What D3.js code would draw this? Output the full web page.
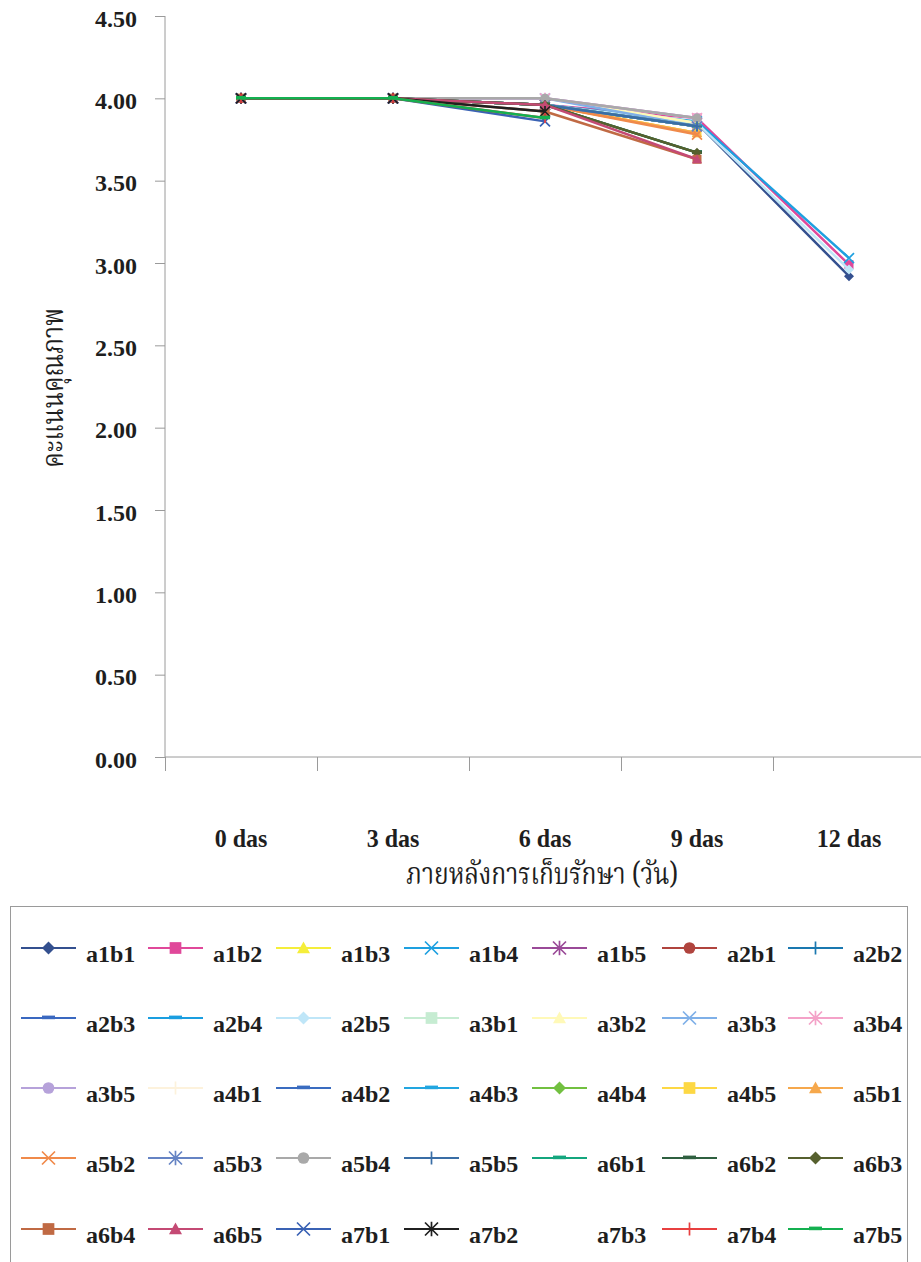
<!DOCTYPE html>
<html>
<head>
<meta charset="utf-8">
<script src="https://cdn.jsdelivr.net/npm/d3@7"></script>
<style>
  html, body { margin: 0; padding: 0; background: #fff; }
  svg { display: block; }
</style>
</head>
<body>
<svg id="chart" width="921" height="1262"></svg>
<script>
// Storage days on the x axis
const categories = ["0 das", "3 das", "6 das", "9 das", "12 das"];

// Y axis tick values
const yTicks = [0, 0.5, 1, 1.5, 2, 2.5, 3, 3.5, 4, 4.5];

// Treatment names (a = factor A level, b = factor B level)
const seriesNames = [
  "a1b1","a1b2","a1b3","a1b4","a1b5","a2b1","a2b2",
  "a2b3","a2b4","a2b5","a3b1","a3b2","a3b3","a3b4",
  "a3b5","a4b1","a4b2","a4b3","a4b4","a4b5","a5b1",
  "a5b2","a5b3","a5b4","a5b5","a6b1","a6b2","a6b3",
  "a6b4","a6b5","a7b1","a7b2","a7b3","a7b4","a7b5"
];

// Quality scores per treatment, one row per series (null = not scored)
const seriesValues = [
  [4.00, 4.00, 3.96, 3.85, 2.92], // a1b1
  [4.00, 4.00, 3.96, 3.88, 2.99], // a1b2
  [4.00, 4.00, 3.96, 3.79, null], // a1b3
  [4.00, 4.00, 3.96, 3.86, 3.03], // a1b4
  [4.00, 4.00, 3.96, 3.85, null], // a1b5
  [4.00, 4.00, 3.96, 3.83, null], // a2b1
  [4.00, 4.00, 3.96, 3.85, null], // a2b2
  [4.00, 4.00, 3.96, 3.83, null], // a2b3
  [4.00, 4.00, 3.96, 3.83, null], // a2b4
  [4.00, 4.00, 3.96, 3.85, 2.96], // a2b5
  [4.00, 4.00, 4.00, 3.85, null], // a3b1
  [4.00, 4.00, 4.00, 3.85, null], // a3b2
  [4.00, 4.00, 4.00, 3.83, null], // a3b3
  [4.00, 4.00, 4.00, 3.88, null], // a3b4
  [4.00, 4.00, 4.00, 3.88, null], // a3b5
  [4.00, 4.00, 3.96, 3.83, null], // a4b1
  [4.00, 4.00, 3.96, 3.83, null], // a4b2
  [4.00, 4.00, 3.96, 3.83, null], // a4b3
  [4.00, 4.00, 3.96, 3.83, null], // a4b4
  [4.00, 4.00, 3.96, 3.79, null], // a4b5
  [4.00, 4.00, 3.96, 3.79, null], // a5b1
  [4.00, 4.00, 3.96, 3.78, null], // a5b2
  [4.00, 4.00, 3.96, 3.83, null], // a5b3
  [4.00, 4.00, 4.00, 3.88, null], // a5b4
  [4.00, 4.00, 3.96, 3.83, null], // a5b5
  [4.00, 4.00, 3.96, 3.67, null], // a6b1
  [4.00, 4.00, 3.96, 3.67, null], // a6b2
  [4.00, 4.00, 3.96, 3.67, null], // a6b3
  [4.00, 4.00, 3.92, 3.63, null], // a6b4
  [4.00, 4.00, 3.96, 3.63, null], // a6b5
  [4.00, 4.00, 3.86, null, null], // a7b1
  [4.00, 4.00, 3.92, null, null], // a7b2
  [4.00, 4.00, 3.92, null, null], // a7b3
  [4.00, 4.00, 3.88, null, null], // a7b4
  [4.00, 4.00, 3.88, null, null]  // a7b5
];

// Line colour per series
const seriesColors = [
  "#34508f","#e0489a","#f5ee3a","#1ea0e0","#9a4a98","#b0443e","#1a78b0",
  "#3a68c0","#1a9ee0","#bfe6f8","#c6ecd2","#fff9b8","#7fb0e8","#f4a2c8",
  "#b6a2da","#fdf2dc","#3a6cc0","#22a6e0","#72c040","#fdd844","#f6a84c",
  "#f08a4a","#6684c4","#a9a9a9","#3a6ea6","#14a67e","#2f6040","#56602e",
  "#c06a44","#c44a74","#3a62b4","#202020","none","#e84040","#14b050"
];

// Marker shape per series
const seriesMarkers = [
  "diamond","square","triangle","x","asterisk","circle","plus",
  "dash","dash","diamond","square","triangle","x","asterisk",
  "circle","plus","dash","dash","diamond","square","triangle",
  "x","asterisk","circle","plus","dash","dash","diamond",
  "square","triangle","x","asterisk","none","plus","dash"
];

const svg = d3.select("#chart");
const serif = "'Liberation Serif','Times New Roman',serif";
const thai = "'Noto Serif Thai','Noto Sans Thai','Loma','Garuda','Norasi',sans-serif";
const textColor = "#1e1e1e";

// Plot area
const plotLeft = 165, plotRight = 925, plotTop = 16, plotBottom = 757;

const x = d3.scaleBand().domain(categories).range([plotLeft, plotRight]).padding(0);
const y = d3.scaleLinear().domain([0, 4.5]).range([plotBottom, plotTop]);
const axisColor = "#9a9a9a";

// Y axis
const yAxis = svg.append("g")
  .attr("transform", `translate(${plotLeft},0)`)
  .call(d3.axisLeft(y).tickValues(yTicks).tickFormat(d3.format(".2f")).tickSize(10).tickPadding(18));
yAxis.select(".domain").attr("stroke", axisColor).attr("d", `M0,${plotTop}V${plotBottom}`);
yAxis.selectAll(".tick line").attr("stroke", axisColor);
yAxis.selectAll(".tick text")
  .attr("fill", textColor).attr("font-family", serif).attr("font-weight", "bold")
  .attr("font-size", 24).attr("dy", "0.42em");

// X axis: baseline, boundary ticks and category labels
const xAxis = svg.append("g");
xAxis.append("line")
  .attr("x1", plotLeft).attr("x2", 921).attr("y1", y(0)).attr("y2", y(0))
  .attr("stroke", axisColor).attr("stroke-width", 1);
xAxis.selectAll("line.xtick").data(categories).join("line")
  .attr("class", "xtick")
  .attr("x1", d => x(d) + 0.5).attr("x2", d => x(d) + 0.5)
  .attr("y1", y(0)).attr("y2", y(0) + 14)
  .attr("stroke", axisColor).attr("stroke-width", 1);
xAxis.selectAll("text").data(categories).join("text")
  .attr("transform", d => `translate(${x(d) + x.bandwidth() / 2},847) scale(0.96,1)`)
  .attr("text-anchor", "middle")
  .attr("font-family", serif).attr("font-weight", "bold").attr("font-size", 25)
  .attr("fill", textColor)
  .text(d => d);

// Axis titles
svg.append("text")
  .attr("transform", "translate(542,884) scale(0.82,1)")
  .attr("text-anchor", "middle")
  .attr("font-family", thai).attr("font-size", 30).attr("fill", textColor)
  .text("ภายหลังการเก็บรักษา (วัน)");
svg.append("text")
  .attr("transform", "translate(63,388) rotate(-90) scale(0.82,1)")
  .attr("text-anchor", "middle")
  .attr("font-family", thai).attr("font-size", 30).attr("fill", textColor)
  .text("คะแนนคุณภาพ");

// Marker drawing
function drawMarker(g, type, color, r) {
  if (type === "none" || color === "none") return;
  const sw = 1.7;
  if (type === "diamond") {
    g.append("path").attr("d", `M0,${-r}L${r},0L0,${r}L${-r},0Z`).attr("fill", color);
  } else if (type === "square") {
    g.append("rect").attr("x", -r * 0.9).attr("y", -r * 0.9)
      .attr("width", r * 1.8).attr("height", r * 1.8).attr("fill", color);
  } else if (type === "triangle") {
    g.append("path").attr("d", `M0,${-r}L${r},${r * 0.8}L${-r},${r * 0.8}Z`).attr("fill", color);
  } else if (type === "circle") {
    g.append("circle").attr("r", r * 0.9).attr("fill", color);
  } else if (type === "x") {
    g.append("path").attr("d", `M${-r},${-r}L${r},${r}M${r},${-r}L${-r},${r}`)
      .attr("stroke", color).attr("stroke-width", sw).attr("fill", "none");
  } else if (type === "asterisk") {
    g.append("path").attr("d", `M${-r},${-r}L${r},${r}M${r},${-r}L${-r},${r}M0,${-r * 1.1}V${r * 1.1}`)
      .attr("stroke", color).attr("stroke-width", sw).attr("fill", "none");
  } else if (type === "plus") {
    g.append("path").attr("d", `M${-r},0H${r}M0,${-r}V${r}`)
      .attr("stroke", color).attr("stroke-width", sw).attr("fill", "none");
  } else if (type === "dash") {
    g.append("rect").attr("x", -r).attr("y", -2.4).attr("width", r * 2).attr("height", 3.6).attr("fill", color);
  }
}

// Series lines and markers (later series drawn on top)
const line = d3.line()
  .defined(d => d.v != null)
  .x(d => x(d.c) + x.bandwidth() / 2)
  .y(d => y(d.v));

const plot = svg.append("g");
seriesNames.forEach((name, i) => {
  const color = seriesColors[i];
  if (color === "none") return;
  const pts = categories.map((c, j) => ({ c, v: seriesValues[i][j] }));
  const g = plot.append("g").attr("class", "series-" + name);
  g.append("path").datum(pts)
    .attr("d", line).attr("fill", "none")
    .attr("stroke", color).attr("stroke-width", 2.5).attr("stroke-linejoin", "round");
  pts.filter(d => d.v != null).forEach(d => {
    const m = g.append("g").attr("transform", `translate(${x(d.c) + x.bandwidth() / 2},${y(d.v)})`);
    drawMarker(m, seriesMarkers[i], color, 5);
  });
});

// Legend
const legendCols = 7;
const colX = [21, 148, 276, 404, 532, 662, 788];
const rowY = [948, 1018, 1088, 1158, 1229];
const legend = svg.append("g");
legend.append("rect")
  .attr("x", 10.5).attr("y", 906.5).attr("width", 897).attr("height", 380)
  .attr("fill", "none").attr("stroke", "#9a9a9a").attr("stroke-width", 1);
seriesNames.forEach((name, i) => {
  const cx = colX[i % legendCols], cy = rowY[Math.floor(i / legendCols)];
  const color = seriesColors[i];
  const item = legend.append("g").attr("transform", `translate(${cx},${cy})`);
  if (color !== "none") {
    item.append("line").attr("x1", 0).attr("x2", 55).attr("y1", 0).attr("y2", 0)
      .attr("stroke", color).attr("stroke-width", 2.2);
    const m = item.append("g").attr("transform", "translate(27.5,0)");
    drawMarker(m, seriesMarkers[i], color, 6.5);
  }
  item.append("text")
    .attr("x", 65).attr("y", 14)
    .attr("font-family", serif).attr("font-weight", "bold").attr("font-size", 24)
    .attr("fill", textColor)
    .text(name);
});
</script>
</body>
</html>
